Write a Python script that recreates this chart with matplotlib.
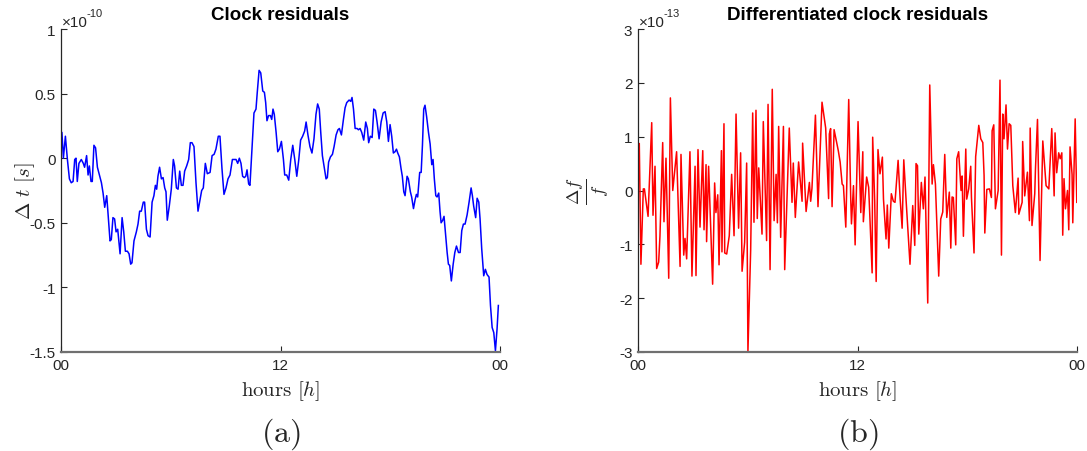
import matplotlib
matplotlib.use("Agg")
import matplotlib.pyplot as plt

plt.rcParams["font.family"] = ["Liberation Sans", "DejaVu Sans"]
plt.rcParams["mathtext.fontset"] = "cm"

# ---- clock residuals, units of 1e-10 s ----
hours_a = [0.00, 0.05, 0.13, 0.24, 0.35, 0.46, 0.56, 0.66, 0.75, 0.82, 0.89, 0.98,
           1.11, 1.22, 1.29, 1.40, 1.48, 1.55, 1.64, 1.71, 1.80, 1.89, 1.99, 2.10,
           2.21, 2.30, 2.39, 2.50, 2.59, 2.68, 2.75, 2.84, 2.93, 3.01, 3.10, 3.23,
           3.34, 3.43, 3.52, 3.63, 3.72, 3.81, 3.88, 3.99, 4.12, 4.21, 4.30, 4.39,
           4.50, 4.57, 4.67, 4.76, 4.87, 4.98, 5.08, 5.16, 5.23, 5.30, 5.39, 5.49,
           5.58, 5.67, 5.74, 5.81, 5.92, 6.03, 6.14, 6.21, 6.31, 6.40, 6.49, 6.58,
           6.67, 6.76, 6.87, 6.98, 7.07, 7.16, 7.27, 7.38, 7.49,
           7.60, 7.69, 7.78, 7.89, 8.00, 8.15, 8.26, 8.37, 8.47, 8.60, 8.69, 8.80,
           8.91, 9.02, 9.13, 9.24, 9.37, 9.48, 9.57, 9.66, 9.75, 9.84, 9.93, 10.02,
           10.10, 10.17, 10.26, 10.33, 10.44, 10.55, 10.66, 10.73, 10.83, 10.92,
           11.03, 11.12, 11.19, 11.26, 11.35, 11.45, 11.52, 11.59, 11.66, 11.76,
           11.85, 11.94, 12.05, 12.16, 12.23, 12.34, 12.45, 12.56, 12.67, 12.78,
           12.89, 13.00, 13.10, 13.21, 13.32, 13.40, 13.50, 13.61, 13.72, 13.83,
           13.94, 14.03, 14.12, 14.20, 14.29, 14.40, 14.49, 14.56, 14.63, 14.73,
           14.84, 14.93, 15.04, 15.14, 15.22, 15.33, 15.44,
           15.53, 15.62, 15.75, 15.84, 15.91, 15.99, 16.08, 16.19, 16.26, 16.35,
           16.44, 16.55, 16.66, 16.75, 16.82, 16.91, 17.01, 17.10, 17.19, 17.28,
           17.39, 17.50, 17.61, 17.72, 17.81, 17.90, 17.99, 18.08, 18.17, 18.26,
           18.34, 18.41, 18.50, 18.59, 18.66, 18.74, 18.81, 18.92, 18.99, 19.10,
           19.17, 19.27, 19.36, 19.43, 19.50, 19.61, 19.69, 19.76, 19.83, 19.90,
           19.99, 20.09, 20.18, 20.27, 20.34, 20.41, 20.49, 20.56, 20.65, 20.72,
           20.78, 20.87, 20.94, 21.00, 21.11, 21.18, 21.25, 21.34, 21.44, 21.53,
           21.62, 21.73, 21.82, 21.91, 22.00, 22.09, 22.20, 22.31, 22.42, 22.49,
           22.56, 22.67, 22.75, 22.84, 22.91, 23.00, 23.11, 23.20, 23.29, 23.40,
           23.48, 23.57, 23.66, 23.75, 23.84, 23.91]
residual_a = [0.08, 0.20, 0.00, 0.17, -0.01, -0.16, -0.19, -0.18, -0.01, 0.00, -0.18, -0.04,
              -0.01, -0.04, -0.07, 0.02, -0.13, -0.06, -0.18, -0.18, 0.10, 0.08, -0.07, -0.13,
              -0.19, -0.27, -0.38, -0.29, -0.47, -0.64, -0.63, -0.46, -0.47, -0.57, -0.55, -0.74,
              -0.46, -0.57, -0.72, -0.72, -0.74, -0.82, -0.81, -0.64, -0.57, -0.51, -0.41, -0.41,
              -0.34, -0.34, -0.55, -0.60, -0.61, -0.34, -0.29, -0.21, -0.24, -0.14, -0.07, -0.16,
              -0.15, -0.23, -0.26, -0.48, -0.37, -0.24, -0.01, -0.06, -0.23, -0.24, -0.10, -0.21,
              -0.21, -0.10, -0.06, -0.01, 0.12, 0.12, 0.09, -0.19, -0.41,
              -0.32, -0.25, -0.23, -0.04, -0.12, -0.11, 0.02, 0.03, 0.07, 0.17, 0.17, -0.08,
              -0.28, -0.23, -0.16, -0.13, -0.01, -0.01, -0.01, -0.04, 0.00, -0.04, -0.14, -0.15,
              -0.14, -0.09, -0.20, -0.21, 0.07, 0.35, 0.38, 0.51, 0.68, 0.66,
              0.52, 0.51, 0.43, 0.29, 0.33, 0.33, 0.30, 0.38, 0.34, 0.20,
              0.05, 0.07, 0.13, -0.01, -0.13, -0.13, -0.17, -0.01, 0.10, -0.01,
              -0.14, -0.01, 0.14, 0.17, 0.21, 0.28, 0.18, 0.09, 0.04, 0.15,
              0.34, 0.42, 0.38, 0.20, 0.02, -0.08, -0.16, -0.15, -0.03, 0.01,
              0.03, 0.09, 0.18, 0.22, 0.23, 0.18, 0.30,
              0.39, 0.43, 0.45, 0.44, 0.47, 0.38, 0.23, 0.23, 0.22, 0.23,
              0.20, 0.14, 0.28, 0.23, 0.12, 0.17, 0.16, 0.38, 0.37, 0.28,
              0.15, 0.28, 0.35, 0.36, 0.28, 0.13, 0.26, 0.17, 0.04, 0.05,
              0.07, 0.04, 0.01, -0.08, -0.14, -0.26, -0.29, -0.14, -0.16, -0.26,
              -0.30, -0.39, -0.32, -0.28, -0.30, -0.11, -0.11, 0.10, 0.38, 0.41,
              0.32, 0.20, 0.11, -0.05, -0.01, -0.16, -0.29, -0.30, -0.27, -0.41,
              -0.50, -0.48, -0.45, -0.55, -0.73, -0.82, -0.83, -0.95, -0.82, -0.73,
              -0.68, -0.73, -0.73, -0.56, -0.51, -0.51, -0.44, -0.34, -0.23, -0.29,
              -0.37, -0.46, -0.31, -0.34, -0.47, -0.70, -0.91, -0.86, -0.90, -0.92,
              -1.14, -1.31, -1.35, -1.49, -1.32, -1.14]

# ---- differentiated clock residuals, units of 1e-13 ----
hours_b = [0.07, 0.16, 0.29, 0.35, 0.55, 0.75, 0.82, 0.93, 1.02, 1.13, 1.20, 1.35,
           1.42, 1.53, 1.68, 1.77, 1.90, 2.11, 2.30, 2.35, 2.50, 2.57, 2.66, 2.84,
           2.95, 3.12, 3.17, 3.28, 3.39, 3.54, 3.61, 3.72, 3.75, 3.86, 4.08, 4.19,
           4.26, 4.36, 4.43, 4.56, 4.59, 4.70, 4.74, 4.85, 4.99, 5.12, 5.25, 5.36,
           5.50, 5.61, 5.69, 5.83, 5.94, 6.01, 6.16, 6.27, 6.34, 6.45, 6.52, 6.60,
           6.78, 6.85, 7.03, 7.11, 7.22, 7.34, 7.44, 7.55, 7.62, 7.69, 7.80, 7.95,
           8.02, 8.27, 8.42, 8.49, 8.60, 8.78, 8.97, 9.00, 9.19, 9.37, 9.44, 9.51,
           9.70, 9.84, 10.06, 10.26, 10.42, 10.46, 10.53, 10.61, 10.72, 10.95,
           11.05, 11.16, 11.23, 11.36, 11.52, 11.63, 11.67, 11.78, 11.87, 12.03,
           12.18, 12.29, 12.32, 12.50, 12.61, 12.80, 12.83, 12.94, 13.02, 13.12,
           13.23, 13.36, 13.42, 13.56, 13.63, 13.71, 13.85, 13.96, 14.05, 14.22,
           14.33, 14.44, 14.53, 14.66, 14.87, 15.02, 15.13, 15.20, 15.28, 15.35,
           15.49, 15.60, 15.69, 15.84, 15.95, 16.08, 16.15, 16.26, 16.44, 16.55,
           16.66, 16.77, 16.88, 17.02, 17.10, 17.17, 17.24, 17.37, 17.43, 17.53,
           17.66, 17.72, 17.79, 17.92, 17.97, 18.08, 18.19, 18.23, 18.37, 18.46,
           18.63, 18.74, 18.85, 18.92, 18.96, 19.07, 19.21, 19.32, 19.36, 19.45,
           19.54, 19.69, 19.79, 19.87, 19.94, 20.01, 20.12, 20.20, 20.29, 20.38,
           20.49, 20.63, 20.78, 20.82, 21.00, 21.03, 21.14, 21.29, 21.40, 21.44,
           21.54, 21.69, 21.73, 21.84, 21.98, 22.13, 22.31, 22.46, 22.62, 22.75,
           22.80, 22.89, 23.00, 23.08, 23.17, 23.22, 23.29, 23.37, 23.48, 23.55,
           23.62, 23.73, 23.77, 23.90, 23.99]
rate_b = [0.87, -1.37, 0.03, 0.03, -0.48, 1.26, -0.46, 0.45, -1.45, -1.33, -0.85, 0.89,
          -0.58, 0.60, -1.63, 1.72, 0.00, 0.72, -1.41, 0.67, -1.20, -0.89, -1.27, 0.72,
          -1.59, 0.45, -1.58, 0.76, -0.68, 0.74, -0.73, 0.48, -0.95, 0.45, -1.74, 0.14,
          -0.41, -0.08, -1.38, 0.74, -1.14, 1.24, -1.16, -1.18, -0.84, 0.30, -0.84, 1.42,
          -0.70, 0.70, -1.50, -0.96, 0.51, -2.99, -1.10, 1.44, -0.59, 1.49, -0.52, 0.42,
          -0.81, 1.28, -0.93, 1.60, -1.47, 1.88, -0.56, 0.30, -0.60, 1.19, -0.87, 1.19,
          -1.47, 1.16, -0.22, 0.51, -0.50, 0.53, -0.20, 0.88, -0.39, 0.15, -0.20, 0.04,
          1.40, -0.30, 1.64, 1.16, -0.15, 1.05, 1.15, -0.30, 1.13, 0.74,
          0.53, 0.12, 0.09, -0.68, 1.69, -0.15, -0.62, 0.09, -1.01, 1.28,
          -0.41, 0.72, -0.58, 0.25, 0.06, -1.53, 0.99, -0.20, -1.69, 0.76,
          0.31, 0.62, -0.16, -0.90, -0.27, -1.07, -0.06, -0.20, -0.22, 0.56,
          -0.15, -0.70, 0.57, -0.20, -1.37, -0.28, -1.02, 0.50, 0.46, -0.81,
          0.15, -0.34, 0.25, -2.09, 1.96, 0.12, 0.48, 0.12, -1.59, -0.53,
          -0.40, 0.67, -0.50, -0.03, -1.07, -0.12, -0.13, -1.01, 0.59, 0.72,
          0.00, 0.27, -0.85, 0.77, -0.16, 0.03, 0.45, -0.13, -1.16, 0.63,
          1.21, 0.96, 0.89, 0.28, -0.79, 0.02, 0.03, -0.13, 1.11, 1.22,
          -0.34, 0.00, 2.05, -1.20, 1.42, 0.96, 1.59, 0.77, 1.24, 1.21,
          0.09, -0.41, 0.23, -0.44, -0.22, 0.91, -0.10, 0.34, -0.56, 1.16,
          -0.65, -0.06, 0.41, 1.32, -1.30, 0.92, 0.09, 0.03, 1.15, -0.10,
          1.07, 0.33, 0.70, 0.59, 0.70, -0.83, 0.22, -0.34, 0.00, -0.73,
          0.81, 0.30, -0.60, 1.33, -0.22]

x_ticks = [0, 12, 24]
x_tick_labels = ["00", "12", "00"]
y_ticks_a = [-1.5, -1, -0.5, 0, 0.5, 1]
y_tick_labels_a = ["-1.5", "-1", "-0.5", "0", "0.5", "1"]
y_ticks_b = [-3, -2, -1, 0, 1, 2, 3]
y_tick_labels_b = ["-3", "-2", "-1", "0", "1", "2", "3"]

fig = plt.figure(figsize=(10.87, 4.52), dpi=100)
W, H = 1087.0, 452.0
ax_a = fig.add_axes([61 / W, 1 - 353 / H, 439 / W, 323 / H])
ax_b = fig.add_axes([638 / W, 1 - 353 / H, 439 / W, 323 / H])

tick_gray = "#262626"


def style_axes(ax, yticks, ylabels, ylim, title, exponent):
    ax.set_xlim(0, 24)
    ax.set_ylim(*ylim)
    ax.set_xticks(x_ticks)
    ax.set_xticklabels(x_tick_labels)
    ax.set_yticks(yticks)
    ax.set_yticklabels(ylabels)
    ax.tick_params(direction="in", length=4, width=0.8, labelsize=11,
                   colors=tick_gray, pad=4)
    ax.spines["top"].set_visible(False)
    ax.spines["right"].set_visible(False)
    ax.spines["left"].set_color(tick_gray)
    ax.spines["left"].set_linewidth(0.9)
    ax.spines["bottom"].set_color("#707070")
    ax.spines["bottom"].set_linewidth(1.6)
    ax.set_title(title, fontsize=13.5, fontweight="bold", pad=7)
    ax.text(0.003, 1.0, "\u00d710", transform=ax.transAxes, fontsize=11,
            color=tick_gray, ha="left", va="bottom")
    ax.text(0.058, 1.035, exponent, transform=ax.transAxes, fontsize=8,
            color=tick_gray, ha="left", va="bottom")
    ax.set_xlabel(r"$\mathrm{hours}\ [h]$", fontsize=15, color=tick_gray, labelpad=5)


ax_a.plot(hours_a, residual_a, color=(0, 0, 1), lw=1.1)
style_axes(ax_a, y_ticks_a, y_tick_labels_a, (-1.5, 1), "Clock residuals", "-10")
ax_a.set_ylabel(r"$\Delta\ t\ [s]$", fontsize=15, color=tick_gray)
ax_a.yaxis.set_label_coords(-24 / 439, 0.5)

ax_b.plot(hours_b, rate_b, color=(1, 0, 0), lw=1.1)
style_axes(ax_b, y_ticks_b, y_tick_labels_b, (-3, 3), "Differentiated clock residuals", "-13")
ax_b.set_ylabel(r"$\frac{\Delta f}{f}$", fontsize=19, color=tick_gray)
ax_b.yaxis.set_label_coords(-26 / 439, 0.5)

fig.text((61 + 439 / 2) / W, 1 - 434 / H, r"$\mathrm{(a)}$", fontsize=23,
         ha="center", va="center", color=tick_gray)
fig.text((638 + 439 / 2) / W, 1 - 434 / H, r"$\mathrm{(b)}$", fontsize=23,
         ha="center", va="center", color=tick_gray)

fig.savefig("out.png", dpi=100)
